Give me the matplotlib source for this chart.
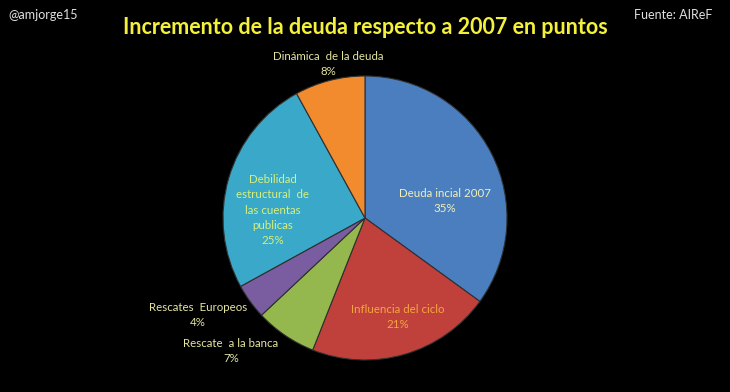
import matplotlib
matplotlib.use("Agg")
import matplotlib.pyplot as plt

labels = ["Deuda incial 2007", "Influencia del ciclo", "Rescate  a la banca",
          "Rescates  Europeos", "Debilidad\nestructural  de\nlas cuentas\npublicas",
          "Dinámica  de la deuda"]
values = [35, 21, 7, 4, 25, 8]
colors = ["#4a7ebf", "#c0403c", "#94b84e", "#7a5ca0", "#3aa8c8", "#f28a2e"]
label_colors = ["#f2f0b8", "#f5a540", "#e6e6a0", "#e6e6a0", "#d6f07c", "#e6e6a0"]
label_pos = [(445, 201), (398, 317), (231, 351), (198, 315), (273, 210), (328, 64)]

plt.rcParams['font.family'] = ['Lato', 'DejaVu Sans']
W, H = 730, 392
fig = plt.figure(figsize=(W / 100, H / 100), dpi=100, facecolor="black")
ax = fig.add_axes([0, 0, 1, 1])
ax.set_facecolor("black")
ax.set_xlim(0, W)
ax.set_ylim(H, 0)
ax.set_aspect("equal")
ax.axis("off")

cx, cy, r = 365, 218, 142
# y axis inverted: counterclock=True appears clockwise on screen; startangle -90 -> top
wedges, _ = ax.pie(values, colors=colors, startangle=-90, counterclock=True,
                   center=(cx, cy), radius=r, frame=True,
                   wedgeprops=dict(edgecolor="#303030", linewidth=0.8))
ax.set_xlim(0, W)
ax.set_ylim(H, 0)
ax.axis("off")

for lab, v, col, (x, y) in zip(labels, values, label_colors, label_pos):
    ax.text(x, y, f"{lab}\n{v}%", ha="center", va="center", color=col,
            fontsize=8.3, linespacing=1.45)

fig.text(365 / W, 1 - 28 / H, "Incremento de la deuda respecto a 2007 en puntos",
         ha="center", va="center", color="#f5f03a", fontsize=15.5, fontweight="bold")
fig.text(8 / W, 1 - 15 / H, "@amjorge15", ha="left", va="center", color="#e0e0e0", fontsize=9)
fig.text(712 / W, 1 - 15 / H, "Fuente: AIReF", ha="right", va="center", color="#e0e0e0", fontsize=9)

fig.savefig("out.png", dpi=100, facecolor="black")
